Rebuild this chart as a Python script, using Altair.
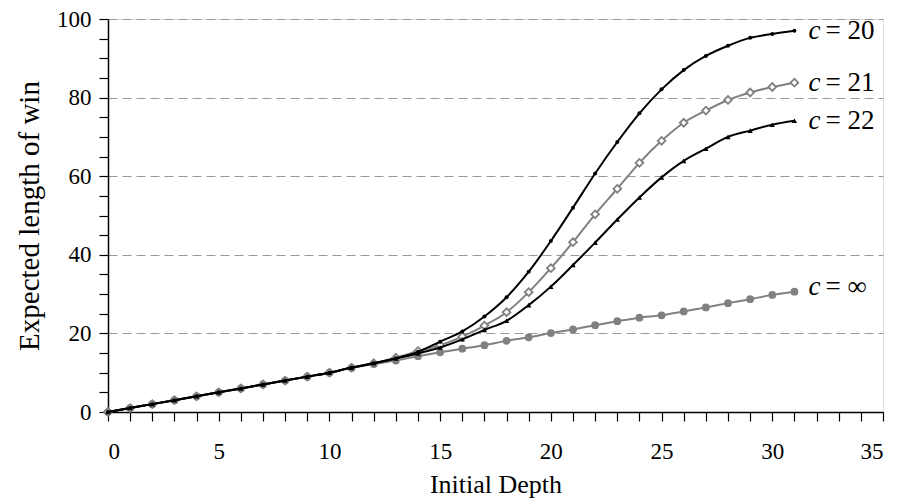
import altair as alt
import pandas as pd

depth = list(range(32))
c20 = [0, 1, 2, 3, 4, 5, 6, 7, 8, 9, 10, 11.3, 12.4, 13.7, 15.3, 17.9, 20.5, 24.3, 29.2, 35.7,
       43.5, 52.0, 60.7, 68.7, 76.0, 82.1, 87.0, 90.6, 93.2, 95.2, 96.2, 97.0]
c21 = [0, 1, 2, 3, 4, 5, 6, 7, 8, 9, 10, 11.3, 12.4, 13.8, 15.5, 17.0, 19.2, 22.0, 25.4, 30.5,
       36.6, 43.2, 50.3, 56.8, 63.4, 69.0, 73.6, 76.7, 79.4, 81.3, 82.7, 83.8]
c22 = [0, 1, 2, 3, 4, 5, 6, 7, 8, 9, 10, 11.3, 12.4, 13.6, 14.9, 16.4, 18.5, 20.9, 23.2, 27.2,
       31.9, 37.4, 43.1, 49.0, 54.6, 59.7, 63.9, 67.0, 70.0, 71.6, 73.1, 74.1]
cinf = [0, 1, 2, 3, 4, 5, 6, 7, 8, 9, 10, 11.2, 12.2, 13.1, 14.2, 15.2, 16.1, 17.0, 18.1, 19.0,
        20.1, 21.0, 22.1, 23.1, 24.0, 24.6, 25.6, 26.6, 27.7, 28.7, 29.8, 30.6]

label_values = ["= 20", "= 21", "= 22", "= \u221e"]
x_ticks = list(range(0, 36))
y_ticks = list(range(0, 101, 5))

FONT = "Liberation Serif"
BLACK = "#000000"
GRAY = "#808080"

x_scale = alt.Scale(domain=[0, 35], nice=False, zero=False)
y_scale = alt.Scale(domain=[0, 100], nice=False)

x_axis = alt.Axis(
    title="Initial Depth", values=x_ticks,
    labelExpr="datum.value % 5 == 0 ? datum.label : ''",
    grid=False, tickSize=9, tickColor=BLACK, tickWidth=1.2,
    domainColor=BLACK, domainWidth=1.5, labelPadding=19,
    labelFont=FONT, labelFontSize=23, labelColor=BLACK,
    titleFont=FONT, titleFontSize=26, titleFontWeight="normal", titleColor=BLACK,
    titlePadding=8,
)
y_axis = alt.Axis(
    title="Expected length of win", values=y_ticks,
    labelExpr="datum.value % 20 == 0 ? datum.label : ''",
    grid=True, gridDash=[9, 5], gridColor="#999999", gridWidth=1,
    gridOpacity={"condition": {"test": "datum.value % 20 == 0 && datum.value > 0", "value": 1}, "value": 0},
    tickSize=9, tickColor=BLACK, tickWidth=1.2,
    domainColor=BLACK, domainWidth=1.5, labelPadding=8,
    labelFont=FONT, labelFontSize=23, labelColor=BLACK,
    titleFont=FONT, titleFontSize=29, titleFontWeight="normal", titleColor=BLACK,
    titlePadding=12,
)

X = alt.X("depth:Q", scale=x_scale, axis=x_axis)
Y = alt.Y("value:Q", scale=y_scale, axis=y_axis)


def series_df(vals):
    return pd.DataFrame({"depth": depth, "value": vals})


def line_layer(vals, color):
    return alt.Chart(series_df(vals)).mark_line(
        color=color, strokeWidth=2, interpolate="monotone"
    ).encode(x=X, y=Y)


def point_layer(vals, shape, size, fill, stroke, sw):
    return alt.Chart(series_df(vals)).mark_point(
        shape=shape, size=size, filled=True, fill=fill, stroke=stroke,
        strokeWidth=sw, opacity=1,
    ).encode(x=X, y=Y)


layers = [
    line_layer(cinf, GRAY),
    point_layer(cinf, "circle", 60, GRAY, GRAY, 0),
    line_layer(c21, GRAY),
    point_layer(c21, "diamond", 60, "#ffffff", GRAY, 1.8),
    line_layer(c20, BLACK),
    point_layer(c20, "circle", 16, BLACK, BLACK, 0),
    line_layer(c22, BLACK),
    point_layer(c22, "triangle-up", 28, BLACK, BLACK, 0),
]

lab_df = pd.DataFrame({
    "depth": [depth[-1]] * 4,
    "value": [c20[-1], c21[-1], c22[-1], cinf[-1]],
    "rest": label_values,
    "c": ["c"] * 4,
    "finite": [True, True, True, False],
})


def label_layers(finite, dy):
    base = alt.Chart(lab_df).transform_filter(
        "datum.finite" if finite else "!datum.finite"
    )
    c_text = base.mark_text(
        align="left", baseline="middle", dx=14, dy=dy, font=FONT, fontSize=27,
        fontStyle="italic", color=BLACK,
    ).encode(x=X, y=Y, text="c:N")
    rest_text = base.mark_text(
        align="left", baseline="middle", dx=31, dy=dy, font=FONT, fontSize=27, color=BLACK,
    ).encode(x=X, y=Y, text="rest:N")
    return [c_text, rest_text]


chart = alt.layer(*layers, *label_layers(True, 0), *label_layers(False, -5)).properties(
    width=775, height=393,
    autosize=alt.AutoSizeParams(type="none"),
    padding={"left": 100, "top": 11, "right": 5, "bottom": 88},
).configure_view(strokeWidth=0, stroke="transparent").configure(background="white")

chart.save("out.html", embed_options={"renderer": "svg", "actions": False})
